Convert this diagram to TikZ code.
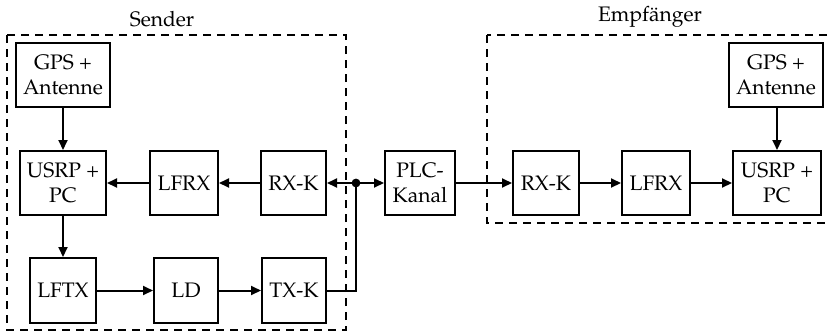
\documentclass[tikz,border=0pt]{standalone}
\usepackage[T1]{fontenc}
\usepackage{mathpazo}
\usetikzlibrary{arrows.meta}
\begin{document}
\begin{tikzpicture}[x=0.5pt,y=-0.5pt,
  blk/.style={draw,line width=1pt,inner sep=1pt,minimum height=32pt,align=center,font=\fontsize{10.5}{12.5}\selectfont},
  conn/.style={line width=1pt,-{Triangle[length=5pt,width=4.5pt]}},
  wire/.style={line width=1pt},
  grp/.style={draw,line width=1pt,dash pattern=on 4pt off 3pt},
  lbl/.style={font=\fontsize{10.5}{12.5}\selectfont}]
\useasboundingbox (0,0) rectangle (828,332);
\begin{scope}
\clip (0,0) rectangle (828,332);
\draw[grp] (7,35) rectangle (346,330);
\draw[grp] (487,35) rectangle (840,223);
\end{scope}
\node[lbl] (sl) at (162,19) {Sender};
\node[lbl] (el) at (650,17) {Empf\"anger};
% sender
\node[blk,minimum width=47pt] (gps1) at (63,75) {GPS +\\Antenne};
\node[blk,minimum width=43pt] (usrp1) at (63,183) {USRP +\\PC};
\node[blk,minimum width=34pt] (lfrx1) at (184,183) {LFRX};
\node[blk,minimum width=32.5pt] (rxk1) at (293.5,183) {RX-K};
\node[blk,minimum width=33pt,minimum height=32.5pt] (lftx) at (63,290.5) {LFTX};
\node[blk,minimum width=32pt,minimum height=32.5pt] (ld) at (186,290.5) {LD};
\node[blk,minimum width=32pt,minimum height=32.5pt] (txk) at (294,290.5) {TX-K};
% channel
\node[blk,minimum width=35pt] (plc) at (420,183) {PLC-\\Kanal};
% receiver
\node[blk,minimum width=33pt] (rxk2) at (546,183) {RX-K};
\node[blk,minimum width=34pt] (lfrx2) at (656,183) {LFRX};
\node[blk,minimum width=44pt] (usrp2) at (777,183) {USRP +\\PC};
\node[blk,minimum width=47pt] (gps2) at (776,75) {GPS +\\Antenne};
\coordinate (j) at (356,183);
\coordinate (c) at (356,290.5);
% connectors
\draw[conn] (gps1) -- (usrp1);
\draw[conn] (rxk1) -- (lfrx1);
\draw[conn] (lfrx1) -- (usrp1);
\draw[conn] (usrp1) -- (lftx);
\draw[conn] (lftx) -- (ld);
\draw[conn] (ld) -- (txk);
\draw[wire] (txk.east) -- (c) -- (j);
\draw[conn] (j) -- (rxk1.east);
\draw[conn] (j) -- (plc.west);
\fill (j) circle (2.2pt);
\draw[conn] (plc) -- (rxk2);
\draw[conn] (rxk2) -- (lfrx2);
\draw[conn] (lfrx2) -- (usrp2);
\draw[conn] (gps2.south -| usrp2.north) -- (usrp2.north);
\end{tikzpicture}
\end{document}
